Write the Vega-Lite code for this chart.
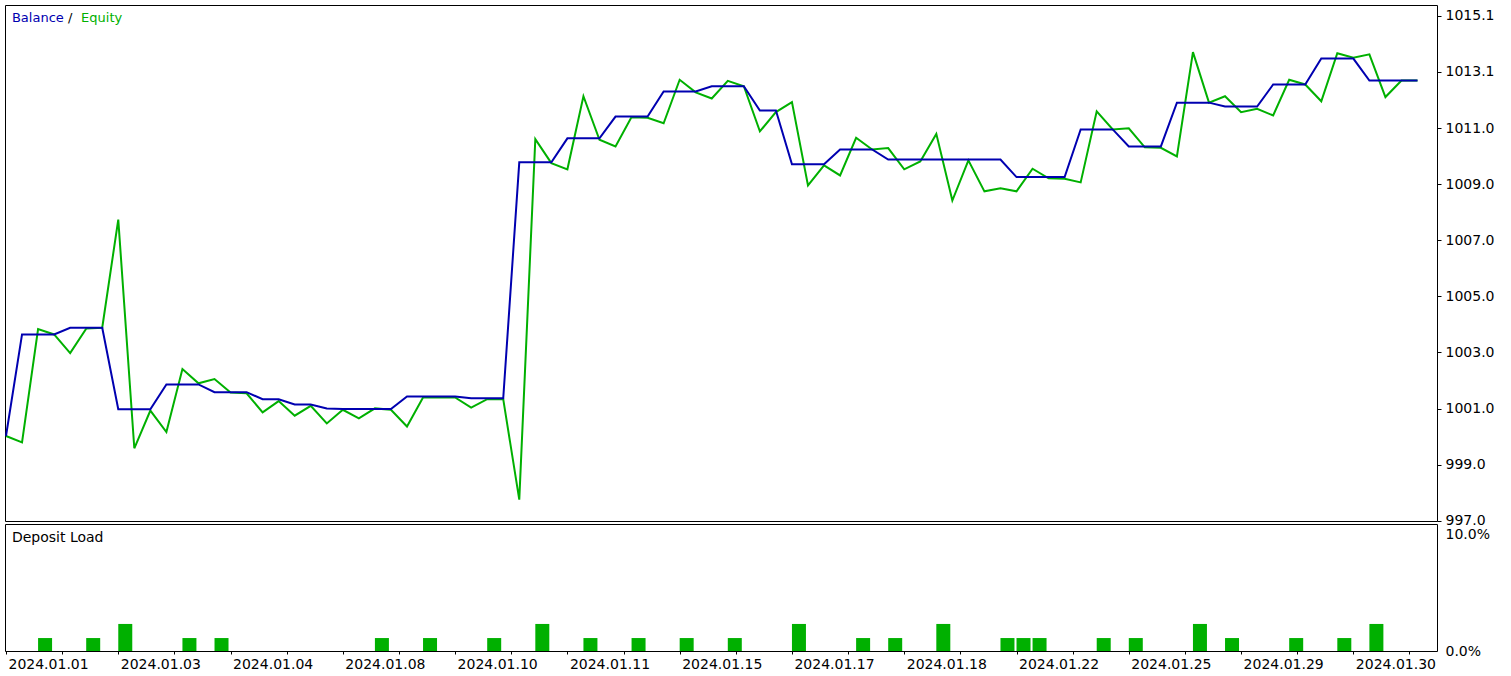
{
  "$schema": "https://vega.github.io/schema/vega-lite/v6.json",
  "padding": {"left": 4, "top": 4, "right": 0, "bottom": 0},
  "background": "white",
  "spacing": 3,
  "bounds": "flush",
  "config": {
    "view": {"stroke": "black", "strokeWidth": 1},
    "font": "DejaVu Sans",
    "axis": {"labelFont": "DejaVu Sans", "labelFontSize": 14, "labelColor": "black", "tickColor": "black", "domain": false, "grid": false, "title": null}
  },
  "datasets": {
    "pts": [
      {"i":0,"balance":1000.0,"equity":1000.0},
      {"i":1,"balance":1003.64,"equity":999.77},
      {"i":2,"balance":1003.64,"equity":1003.83},
      {"i":3,"balance":1003.64,"equity":1003.64},
      {"i":4,"balance":1003.88,"equity":1002.97},
      {"i":5,"balance":1003.88,"equity":1003.85},
      {"i":6,"balance":1003.88,"equity":1003.88},
      {"i":7,"balance":1000.96,"equity":1007.76},
      {"i":8,"balance":1000.96,"equity":999.56},
      {"i":9,"balance":1000.96,"equity":1000.91},
      {"i":10,"balance":1001.85,"equity":1000.14},
      {"i":11,"balance":1001.85,"equity":1002.40},
      {"i":12,"balance":1001.85,"equity":1001.89},
      {"i":13,"balance":1001.57,"equity":1002.04},
      {"i":14,"balance":1001.57,"equity":1001.56},
      {"i":15,"balance":1001.57,"equity":1001.53},
      {"i":16,"balance":1001.32,"equity":1000.85},
      {"i":17,"balance":1001.32,"equity":1001.25},
      {"i":18,"balance":1001.13,"equity":1000.73},
      {"i":19,"balance":1001.13,"equity":1001.08},
      {"i":20,"balance":1000.99,"equity":1000.45},
      {"i":21,"balance":1000.97,"equity":1000.94},
      {"i":22,"balance":1000.97,"equity":1000.63},
      {"i":23,"balance":1000.97,"equity":1000.99},
      {"i":24,"balance":1000.97,"equity":1000.94},
      {"i":25,"balance":1001.42,"equity":1000.34},
      {"i":26,"balance":1001.42,"equity":1001.38},
      {"i":27,"balance":1001.42,"equity":1001.38},
      {"i":28,"balance":1001.42,"equity":1001.38},
      {"i":29,"balance":1001.35,"equity":1001.02},
      {"i":30,"balance":1001.35,"equity":1001.32},
      {"i":31,"balance":1001.35,"equity":1001.32},
      {"i":32,"balance":1009.81,"equity":997.72},
      {"i":33,"balance":1009.81,"equity":1010.64},
      {"i":34,"balance":1009.81,"equity":1009.78},
      {"i":35,"balance":1010.67,"equity":1009.56},
      {"i":36,"balance":1010.67,"equity":1012.18},
      {"i":37,"balance":1010.67,"equity":1010.62},
      {"i":38,"balance":1011.45,"equity":1010.38},
      {"i":39,"balance":1011.45,"equity":1011.43},
      {"i":40,"balance":1011.45,"equity":1011.41},
      {"i":41,"balance":1012.35,"equity":1011.21},
      {"i":42,"balance":1012.35,"equity":1012.77},
      {"i":43,"balance":1012.35,"equity":1012.32},
      {"i":44,"balance":1012.54,"equity":1012.10},
      {"i":45,"balance":1012.54,"equity":1012.73},
      {"i":46,"balance":1012.54,"equity":1012.54},
      {"i":47,"balance":1011.67,"equity":1010.92},
      {"i":48,"balance":1011.67,"equity":1011.61},
      {"i":49,"balance":1009.74,"equity":1011.97},
      {"i":50,"balance":1009.74,"equity":1008.98},
      {"i":51,"balance":1009.74,"equity":1009.70},
      {"i":52,"balance":1010.27,"equity":1009.34},
      {"i":53,"balance":1010.27,"equity":1010.69},
      {"i":54,"balance":1010.27,"equity":1010.27},
      {"i":55,"balance":1009.91,"equity":1010.32},
      {"i":56,"balance":1009.91,"equity":1009.56},
      {"i":57,"balance":1009.91,"equity":1009.84},
      {"i":58,"balance":1009.91,"equity":1010.83},
      {"i":59,"balance":1009.91,"equity":1008.44},
      {"i":60,"balance":1009.91,"equity":1009.88},
      {"i":61,"balance":1009.91,"equity":1008.77},
      {"i":62,"balance":1009.91,"equity":1008.88},
      {"i":63,"balance":1009.28,"equity":1008.77},
      {"i":64,"balance":1009.28,"equity":1009.58},
      {"i":65,"balance":1009.28,"equity":1009.24},
      {"i":66,"balance":1009.28,"equity":1009.22},
      {"i":67,"balance":1010.99,"equity":1009.09},
      {"i":68,"balance":1010.99,"equity":1011.64},
      {"i":69,"balance":1010.99,"equity":1010.99},
      {"i":70,"balance":1010.38,"equity":1011.03},
      {"i":71,"balance":1010.38,"equity":1010.35},
      {"i":72,"balance":1010.38,"equity":1010.33},
      {"i":73,"balance":1011.95,"equity":1010.02},
      {"i":74,"balance":1011.95,"equity":1013.76},
      {"i":75,"balance":1011.95,"equity":1011.95},
      {"i":76,"balance":1011.81,"equity":1012.18},
      {"i":77,"balance":1011.81,"equity":1011.61},
      {"i":78,"balance":1011.81,"equity":1011.73},
      {"i":79,"balance":1012.60,"equity":1011.49},
      {"i":80,"balance":1012.60,"equity":1012.77},
      {"i":81,"balance":1012.60,"equity":1012.60},
      {"i":82,"balance":1013.53,"equity":1012.00},
      {"i":83,"balance":1013.53,"equity":1013.72},
      {"i":84,"balance":1013.53,"equity":1013.56},
      {"i":85,"balance":1012.74,"equity":1013.68},
      {"i":86,"balance":1012.74,"equity":1012.15},
      {"i":87,"balance":1012.74,"equity":1012.74},
      {"i":88,"balance":1012.74,"equity":1012.74}
    ],
    "load": [
      {"i":2,"load":1.02},{"i":5,"load":1.02},{"i":7,"load":2.13},{"i":11,"load":1.02},{"i":13,"load":1.02},
      {"i":23,"load":1.02},{"i":26,"load":1.02},{"i":30,"load":1.02},{"i":33,"load":2.13},{"i":36,"load":1.02},
      {"i":39,"load":1.02},{"i":42,"load":1.02},{"i":45,"load":1.02},{"i":49,"load":2.13},{"i":53,"load":1.02},
      {"i":55,"load":1.02},{"i":58,"load":2.13},{"i":62,"load":1.02},{"i":63,"load":1.02},{"i":64,"load":1.02},
      {"i":68,"load":1.02},{"i":70,"load":1.02},{"i":74,"load":2.13},{"i":76,"load":1.02},{"i":80,"load":1.02},
      {"i":83,"load":1.02},{"i":85,"load":2.13}
    ]
  },
  "vconcat": [
    {
      "width": 1432,
      "height": 516,
      "layer": [
        {
          "data": {"name": "pts"},
          "mark": {"type": "line", "color": "#00B000", "strokeWidth": 2, "clip": true},
          "encoding": {
            "x": {"field": "i", "type": "quantitative", "scale": {"domain": [-0.062, 89.215], "nice": false, "zero": false, "padding": 0}, "axis": null},
            "y": {"field": "equity", "type": "quantitative",
                  "scale": {"domain": [996.953, 1015.45], "nice": false, "zero": false},
                  "axis": {"orient": "right", "values": [996.96, 998.9715, 1000.983, 1002.9945, 1005.006, 1007.0175, 1009.029, 1011.0405, 1013.052, 1015.0635],
                           "format": ".1f", "tickSize": 4, "labelPadding": 4, "labelFlush": false, "labelOverlap": false}}
          }
        },
        {
          "data": {"name": "pts"},
          "mark": {"type": "line", "color": "#0000B0", "strokeWidth": 2, "clip": true},
          "encoding": {
            "x": {"field": "i", "type": "quantitative"},
            "y": {"field": "balance", "type": "quantitative"}
          }
        },
        {
          "data": {"values": [{}]},
          "mark": {"type": "text", "align": "left", "baseline": "middle", "fontSize": 13, "font": "DejaVu Sans", "color": "#0000B0"},
          "encoding": {"x": {"datum": 0.37, "type": "quantitative"}, "y": {"datum": 1014.97, "type": "quantitative"}, "text": {"value": "Balance"}}
        },
        {
          "data": {"values": [{}]},
          "mark": {"type": "text", "align": "left", "baseline": "middle", "fontSize": 13, "font": "DejaVu Sans", "color": "black"},
          "encoding": {"x": {"datum": 3.86, "type": "quantitative"}, "y": {"datum": 1014.97, "type": "quantitative"}, "text": {"value": "/"}}
        },
        {
          "data": {"values": [{}]},
          "mark": {"type": "text", "align": "left", "baseline": "middle", "fontSize": 13, "font": "DejaVu Sans", "color": "#00B000"},
          "encoding": {"x": {"datum": 4.68, "type": "quantitative"}, "y": {"datum": 1014.97, "type": "quantitative"}, "text": {"value": "Equity"}}
        }
      ]
    },
    {
      "width": 1432,
      "height": 127,
      "layer": [
        {
          "data": {"name": "load"},
          "mark": {"type": "bar", "width": 14, "xOffset": 7, "color": "#00B000"},
          "encoding": {
            "x": {"field": "i", "type": "quantitative", "scale": {"domain": [-0.062, 89.215], "nice": false, "zero": false, "padding": 0},
                  "axis": {"orient": "bottom", "values": [0, 3.5, 7, 10.5, 14, 17.5, 21, 24.5, 28, 31.5, 35, 38.5, 42, 45.5, 49, 52.5, 56, 59.5, 63, 66.5, 70, 73.5, 77, 80.5, 84, 87.5],
                           "labelExpr": "(datum.value % 7 == 0 && datum.value <= 84) ? ['2024.01.01','2024.01.03','2024.01.04','2024.01.08','2024.01.10','2024.01.11','2024.01.15','2024.01.17','2024.01.18','2024.01.22','2024.01.25','2024.01.29','2024.01.30'][round(datum.value / 7)] : ''",
                           "labelAlign": "left", "labelBaseline": "top", "labelOffset": 2, "tickSize": 3, "labelPadding": 3, "labelFlush": false, "labelOverlap": false, "labelBound": false}},
            "y": {"field": "load", "type": "quantitative", "scale": {"domain": [0, 10], "nice": false},
                  "axis": {"orient": "right", "values": [0, 10], "labelExpr": "format(datum.value, '.1f') + '%'", "ticks": false, "labelPadding": 8,
                           "labelFlush": false, "labelOverlap": false,
                           "labelOffset": {"condition": {"test": "datum.value > 5", "value": 10}, "value": 0}}}
          }
        },
        {
          "data": {"values": [{}]},
          "mark": {"type": "text", "align": "left", "baseline": "middle", "fontSize": 14, "font": "DejaVu Sans", "color": "black"},
          "encoding": {"x": {"datum": 0.37, "type": "quantitative"}, "y": {"datum": 8.9, "type": "quantitative"}, "text": {"value": "Deposit Load"}}
        }
      ]
    }
  ]
}
